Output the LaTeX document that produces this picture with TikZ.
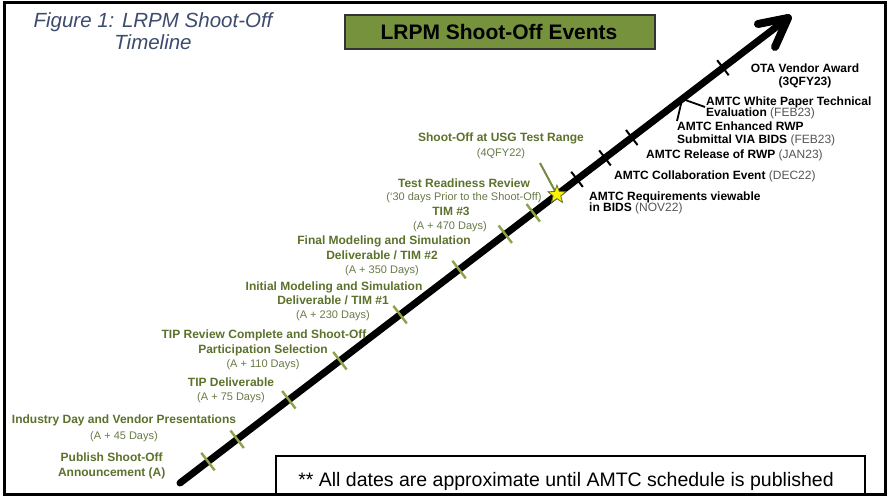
\documentclass[tikz,border=0pt]{standalone}
\usepackage{fontspec}
\setmainfont{Liberation Sans}
\usetikzlibrary{calc,shapes.geometric}
\definecolor{evgreen}{RGB}{92,114,44}
\definecolor{subgreen}{RGB}{105,122,72}
\definecolor{tickgreen}{RGB}{140,162,72}
\definecolor{boxgreen}{RGB}{118,146,60}
\definecolor{grayt}{RGB}{85,85,85}
\definecolor{titleblue}{RGB}{60,75,110}
\tikzset{
  ev/.style={text=evgreen, font=\bfseries\fontsize{12}{14}\selectfont, anchor=base, inner sep=0pt},
  evs/.style={text=subgreen, font=\fontsize{11}{13}\selectfont, anchor=base, inner sep=0pt},
  rt/.style={text=black, font=\bfseries\fontsize{12}{14}\selectfont, anchor=base west, inner sep=0pt},
  rtc/.style={rt, anchor=base},
  gtick/.style={draw=tickgreen, line width=2.4pt},
  btick/.style={draw=black, line width=2pt},
  shaft/.style={line width=7pt, line cap=round},
  lead/.style={draw=black, line width=1.8pt},
}
\newcommand{\gp}[1]{{\mdseries\color{grayt}#1}}
\begin{document}
\begin{tikzpicture}[x=1pt,y=-1pt]
\useasboundingbox (0,0) rectangle (888,500);
\fill[white] (0,0) rectangle (888,500);
% outer frame
\draw[line width=3pt] (4,3) rectangle (885,494);
% title
\node[text=titleblue, font=\itshape\fontsize{20.5}{22}\selectfont, anchor=base, inner sep=0pt] (t1) at (153,28) {Figure 1: LRPM Shoot-Off};
\node[text=titleblue, font=\itshape\fontsize{20.5}{22}\selectfont, anchor=base, inner sep=0pt] (t2) at (153,50) {Timeline};
% green header box
\node[draw=black!80, line width=1.5pt, fill=boxgreen, minimum width=310pt, minimum height=34pt, inner sep=0pt] (hb) at (500,32) {};
\node[font=\bfseries\fontsize{21}{24}\selectfont, anchor=base, inner sep=0pt] (ht) at (499,39.5) {LRPM Shoot-Off Events};
% note box
\draw[line width=1.2pt] (276,494) -- (276,456) -- (865,456) -- (865,494);
\node[font=\fontsize{19.5}{22}\selectfont, anchor=base, inner sep=0pt] (note) at (566,486) {** All dates are approximate until AMTC schedule is published};
% shaft
\coordinate (s) at (180,483);
\coordinate (e) at (788,18);
\draw[shaft] (s) -- (e);
\draw[line width=8pt, line cap=round, line join=round] (758,24) -- (e) -- (775,47);
% green ticks
\foreach \t in {0.046,0.094,0.179,0.263,0.362,0.459,0.535,0.581}
  \draw[gtick] ($(s)!\t!(e)+(127.4:11pt)$) -- ($(s)!\t!(e)+(-52.6:11pt)$);
% black ticks
\foreach \t in {0.653,0.699,0.743,0.893}
  \draw[btick] ($(s)!\t!(e)+(127.4:9.5pt)$) -- ($(s)!\t!(e)+(-52.6:9.5pt)$);
% branch leader lines
\coordinate (br) at ($(s)!0.826!(e)$);
\coordinate (wp) at (705,107);
\coordinate (er) at (677,121);
\draw[lead] (br) -- (wp);
\draw[lead] (br) -- (er);
% star and its leader
\coordinate (sol) at (540,163);
\coordinate (stc) at ($(s)!0.620!(e)$);
\draw[draw=tickgreen!85!black, line width=2pt] (sol) -- (stc);
\node[star, star points=5, star point ratio=2.4, fill=yellow, draw=evgreen, line width=0.8pt, minimum size=19pt, inner sep=0pt] (st) at (stc) {};
% left (green) events
\node[ev] (a1) at (111.7,461) {Publish Shoot-Off};
\node[ev] (a2) at (111.7,476) {Announcement (A)};
\node[ev] (b1) at (124,423) {Industry Day and Vendor Presentations};
\node[evs] (b2) at (124,439) {(A + 45 Days)};
\node[ev] (c1) at (231,386) {TIP Deliverable};
\node[evs] (c2) at (231,400) {(A + 75 Days)};
\node[ev] (d1) at (264,338) {TIP Review Complete and Shoot-Off};
\node[ev] (d2) at (263,353) {Participation Selection};
\node[evs] (d3) at (263,367) {(A + 110 Days)};
\node[ev] (f1) at (334,290) {Initial Modeling and Simulation};
\node[ev] (f2) at (333,304) {Deliverable / TIM \#1};
\node[evs] (f3) at (333,318) {(A + 230 Days)};
\node[ev] (g1) at (384,244) {Final Modeling and Simulation};
\node[ev] (g2) at (382,259) {Deliverable / TIM \#2};
\node[evs] (g3) at (382,273) {(A + 350 Days)};
\node[ev] (h1) at (451,215) {TIM \#3};
\node[evs] (h2) at (450,229) {(A + 470 Days)};
\node[ev] (i1) at (464,187) {Test Readiness Review};
\node[evs] (i2) at (464,200) {(‘30 days Prior to the Shoot-Off)};
\node[ev] (j1) at (501,142) {Shoot-Off at USG Test Range};
\node[evs] (j2) at (501,156) {(4QFY22)};
% right (black) events
\node[rtc] (k1) at (805,73) {OTA Vendor Award};
\node[rtc] (k2) at (805,86) {(3QFY23)};
\node[rt] (l1) at (706,106) {AMTC White Paper Technical};
\node[rt] (l2) at (706,116.5) {Evaluation \gp{(FEB23)}};
\node[rt] (m1) at (677,131) {AMTC Enhanced RWP};
\node[rt] (m2) at (677,143) {Submittal VIA BIDS \gp{(FEB23)}};
\node[rt] (n1) at (646,158) {AMTC Release of RWP \gp{(JAN23)}};
\node[rt] (o1) at (614,179) {AMTC Collaboration Event \gp{(DEC22)}};
\node[rt] (p1) at (589,200) {AMTC Requirements viewable};
\node[rt] (p2) at (589,211) {in BIDS \gp{(NOV22)}};
\end{tikzpicture}
\end{document}
